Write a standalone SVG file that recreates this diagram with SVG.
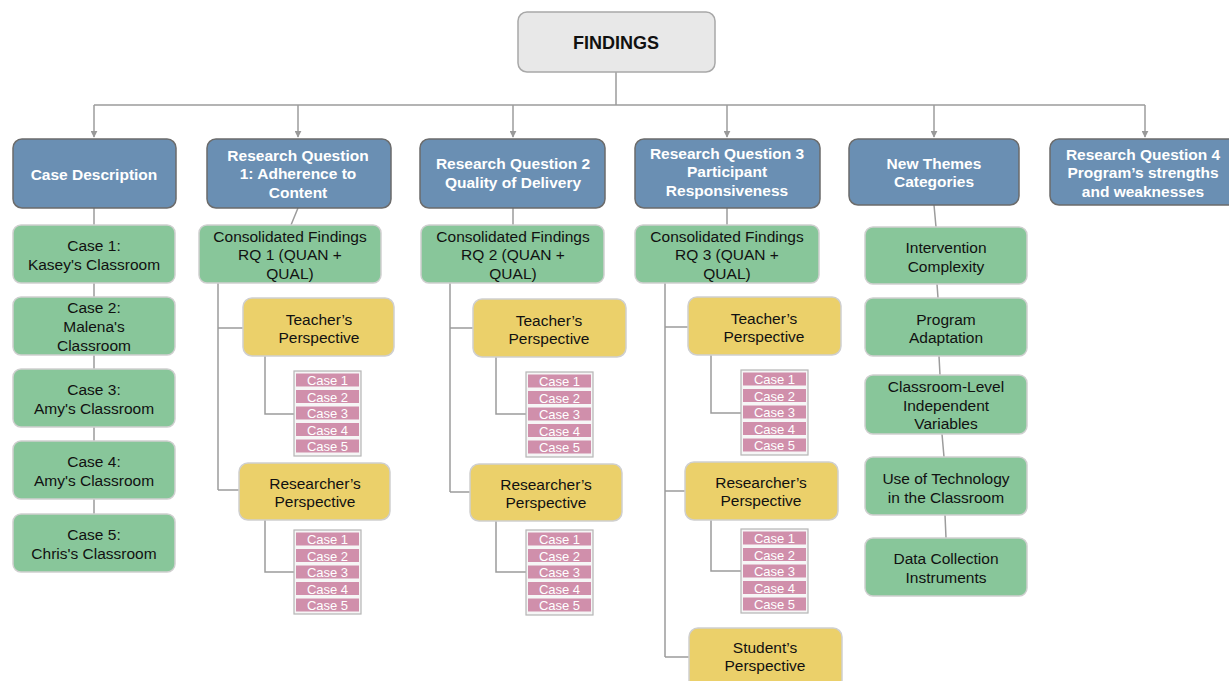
<svg xmlns="http://www.w3.org/2000/svg" width="1229" height="681" viewBox="0 0 1229 681">
  <defs>
    <marker id="arrow" viewBox="0 0 10 10" refX="9" refY="5" markerWidth="7" markerHeight="7" markerUnits="userSpaceOnUse" orient="auto">
      <path d="M0,0 L10,5 L0,10 z" fill="#999"/>
    </marker>
  </defs>
  <style>
    text { font-family: "Liberation Sans", Arial, sans-serif; text-anchor: middle; }
    .root rect { fill: #e8e8e8; stroke: #a8a8a8; stroke-width: 1.5; }
    .root text { font-size: 18px; font-weight: bold; fill: #111; }
    .head rect { fill: #6a8fb3; stroke: #6b6b6b; stroke-width: 1.5; }
    .head text { font-size: 15.5px; font-weight: bold; fill: #fff; }
    .green rect { fill: #88c69a; stroke: #cfcfcf; stroke-width: 1.5; }
    .green text { font-size: 15.5px; fill: #111; }
    .yellow rect { fill: #ebd06a; stroke: #cfcfcf; stroke-width: 1.5; }
    .yellow text { font-size: 15.5px; fill: #111; }
    .stack .frame { fill: #f6f6f6; stroke: #b5b5b5; stroke-width: 1.2; }
    .stack .row { fill: #d08fab; stroke: none; }
    .stack text { font-size: 13px; fill: #fff; }
    .conn { fill: none; stroke: #9c9c9c; stroke-width: 1.5; }
  </style>

  <!-- connectors -->
  <g id="connectors" class="conn">
    <path d="M616,72 V105 M94,105 H1145"/>
    <path d="M94,105 V137" marker-end="url(#arrow)"/>
    <path d="M298,105 V137" marker-end="url(#arrow)"/>
    <path d="M513,105 V137" marker-end="url(#arrow)"/>
    <path d="M727,105 V137" marker-end="url(#arrow)"/>
    <path d="M934,105 V137" marker-end="url(#arrow)"/>
    <path d="M1145,105 V137" marker-end="url(#arrow)"/>
    <!-- case description column -->
    <path d="M94,208 V225 M94,283 V297 M94,355 V369 M94,427 V441 M94,499 V514"/>
    <!-- RQ1 -->
    <path d="M298,208 L291,225 M218,283 V490 M218,328 H243 M218,490 H239"/>
    <path d="M265,356 V414 H294 M265,520 V572 H294"/>
    <!-- RQ2 -->
    <path d="M513,208 V225 M450,283 V492 M450,328 H473 M450,492 H470"/>
    <path d="M496,357 V414 H526 M496,521 V572 H526"/>
    <!-- RQ3 -->
    <path d="M727,208 V225 M665,283 V657 M665,327 H688 M665,491 H685 M665,657 H689"/>
    <path d="M711,355 V413 H741 M711,520 V571 H741"/>
    <!-- new themes column -->
    <path d="M934,205 L936,227 M937,284 L938,298 M939,356 L940,375 M942,434 L944,457 M945,515 L946,538"/>
  </g>

  <!-- root -->
  <g id="findings" class="root">
    <rect x="518" y="12" width="197" height="60" rx="9"/>
    <text x="616" y="49">FINDINGS</text>
  </g>

  <!-- top level categories -->
  <g id="case-description" class="head">
    <rect x="13" y="139" width="163" height="69" rx="9"/>
    <text x="94" y="180">Case Description</text>
  </g>
  <g id="rq1" class="head">
    <rect x="207" y="139" width="184" height="69" rx="9"/>
    <text x="298" y="161">Research Question</text>
    <text x="298" y="179">1: Adherence to</text>
    <text x="298" y="198">Content</text>
  </g>
  <g id="rq2" class="head">
    <rect x="420" y="139" width="185" height="69" rx="9"/>
    <text x="513" y="169">Research Question 2</text>
    <text x="513" y="188">Quality of Delivery</text>
  </g>
  <g id="rq3" class="head">
    <rect x="635" y="139" width="185" height="69" rx="9"/>
    <text x="727" y="159">Research Question 3</text>
    <text x="727" y="177">Participant</text>
    <text x="727" y="196">Responsiveness</text>
  </g>
  <g id="new-themes" class="head">
    <rect x="849" y="139" width="170" height="66" rx="9"/>
    <text x="934" y="169">New Themes</text>
    <text x="934" y="187">Categories</text>
  </g>
  <g id="rq4" class="head">
    <rect x="1050" y="139" width="190" height="66" rx="9"/>
    <text x="1143" y="160">Research Question 4</text>
    <text x="1143" y="178">Program’s strengths</text>
    <text x="1143" y="197">and weaknesses</text>
  </g>

  <!-- case descriptions -->
  <g id="case-1" class="green">
    <rect x="13" y="225" width="162" height="58" rx="8"/>
    <text x="94" y="251">Case 1:</text>
    <text x="94" y="270">Kasey's Classroom</text>
  </g>
  <g id="case-2" class="green">
    <rect x="13" y="297" width="162" height="58" rx="8"/>
    <text x="94" y="313">Case 2:</text>
    <text x="94" y="332">Malena's</text>
    <text x="94" y="351">Classroom</text>
  </g>
  <g id="case-3" class="green">
    <rect x="13" y="369" width="162" height="58" rx="8"/>
    <text x="94" y="395">Case 3:</text>
    <text x="94" y="414">Amy's Classroom</text>
  </g>
  <g id="case-4" class="green">
    <rect x="13" y="441" width="162" height="58" rx="8"/>
    <text x="94" y="467">Case 4:</text>
    <text x="94" y="486">Amy's Classroom</text>
  </g>
  <g id="case-5" class="green">
    <rect x="13" y="514" width="162" height="58" rx="8"/>
    <text x="94" y="540">Case 5:</text>
    <text x="94" y="559">Chris's Classroom</text>
  </g>

  <!-- RQ1 branch -->
  <g id="rq1-consolidated" class="green">
    <rect x="199" y="225" width="182" height="58" rx="8"/>
    <text x="290" y="242">Consolidated Findings</text>
    <text x="290" y="260">RQ 1 (QUAN +</text>
    <text x="290" y="279">QUAL)</text>
  </g>
  <g id="rq1-teacher" class="yellow">
    <rect x="243" y="298" width="151" height="58" rx="9"/>
    <text x="319" y="325">Teacher’s</text>
    <text x="319" y="343">Perspective</text>
  </g>
  <g id="rq1-teacher-cases" class="stack">
    <rect class="frame" x="294" y="371" width="67" height="85"/>
    <rect class="row" x="296" y="373.5" width="63" height="13"/>
    <rect class="row" x="296" y="390" width="63" height="13"/>
    <rect class="row" x="296" y="406.5" width="63" height="13"/>
    <rect class="row" x="296" y="423" width="63" height="13"/>
    <rect class="row" x="296" y="439.5" width="63" height="13"/>
    <text x="327.5" y="385">Case 1</text>
    <text x="327.5" y="401.5">Case 2</text>
    <text x="327.5" y="418">Case 3</text>
    <text x="327.5" y="434.5">Case 4</text>
    <text x="327.5" y="451">Case 5</text>
  </g>
  <g id="rq1-researcher" class="yellow">
    <rect x="239" y="463" width="151" height="57" rx="9"/>
    <text x="315" y="489">Researcher’s</text>
    <text x="315" y="507">Perspective</text>
  </g>
  <g id="rq1-researcher-cases" class="stack">
    <rect class="frame" x="294" y="530" width="67" height="84"/>
    <rect class="row" x="296" y="532.5" width="63" height="13"/>
    <rect class="row" x="296" y="549" width="63" height="13"/>
    <rect class="row" x="296" y="565.5" width="63" height="13"/>
    <rect class="row" x="296" y="582" width="63" height="13"/>
    <rect class="row" x="296" y="598.5" width="63" height="13"/>
    <text x="327.5" y="544">Case 1</text>
    <text x="327.5" y="560.5">Case 2</text>
    <text x="327.5" y="577">Case 3</text>
    <text x="327.5" y="593.5">Case 4</text>
    <text x="327.5" y="610">Case 5</text>
  </g>

  <!-- RQ2 branch -->
  <g id="rq2-consolidated" class="green">
    <rect x="421" y="225" width="183" height="58" rx="8"/>
    <text x="513" y="242">Consolidated Findings</text>
    <text x="513" y="260">RQ 2 (QUAN +</text>
    <text x="513" y="279">QUAL)</text>
  </g>
  <g id="rq2-teacher" class="yellow">
    <rect x="473" y="299" width="153" height="58" rx="9"/>
    <text x="549" y="326">Teacher’s</text>
    <text x="549" y="344">Perspective</text>
  </g>
  <g id="rq2-teacher-cases" class="stack">
    <rect class="frame" x="526" y="372" width="67" height="85"/>
    <rect class="row" x="528" y="374.5" width="63" height="13"/>
    <rect class="row" x="528" y="391" width="63" height="13"/>
    <rect class="row" x="528" y="407.5" width="63" height="13"/>
    <rect class="row" x="528" y="424" width="63" height="13"/>
    <rect class="row" x="528" y="440.5" width="63" height="13"/>
    <text x="559.5" y="386">Case 1</text>
    <text x="559.5" y="402.5">Case 2</text>
    <text x="559.5" y="419">Case 3</text>
    <text x="559.5" y="435.5">Case 4</text>
    <text x="559.5" y="452">Case 5</text>
  </g>
  <g id="rq2-researcher" class="yellow">
    <rect x="470" y="464" width="152" height="57" rx="9"/>
    <text x="546" y="490">Researcher’s</text>
    <text x="546" y="508">Perspective</text>
  </g>
  <g id="rq2-researcher-cases" class="stack">
    <rect class="frame" x="526" y="530" width="67" height="85"/>
    <rect class="row" x="528" y="532.5" width="63" height="13"/>
    <rect class="row" x="528" y="549" width="63" height="13"/>
    <rect class="row" x="528" y="565.5" width="63" height="13"/>
    <rect class="row" x="528" y="582" width="63" height="13"/>
    <rect class="row" x="528" y="598.5" width="63" height="13"/>
    <text x="559.5" y="544">Case 1</text>
    <text x="559.5" y="560.5">Case 2</text>
    <text x="559.5" y="577">Case 3</text>
    <text x="559.5" y="593.5">Case 4</text>
    <text x="559.5" y="610">Case 5</text>
  </g>

  <!-- RQ3 branch -->
  <g id="rq3-consolidated" class="green">
    <rect x="635" y="225" width="184" height="58" rx="8"/>
    <text x="727" y="242">Consolidated Findings</text>
    <text x="727" y="260">RQ 3 (QUAN +</text>
    <text x="727" y="279">QUAL)</text>
  </g>
  <g id="rq3-teacher" class="yellow">
    <rect x="688" y="297" width="153" height="58" rx="9"/>
    <text x="764" y="324">Teacher’s</text>
    <text x="764" y="342">Perspective</text>
  </g>
  <g id="rq3-teacher-cases" class="stack">
    <rect class="frame" x="741" y="370" width="67" height="85"/>
    <rect class="row" x="743" y="372.5" width="63" height="13"/>
    <rect class="row" x="743" y="389" width="63" height="13"/>
    <rect class="row" x="743" y="405.5" width="63" height="13"/>
    <rect class="row" x="743" y="422" width="63" height="13"/>
    <rect class="row" x="743" y="438.5" width="63" height="13"/>
    <text x="774.5" y="384">Case 1</text>
    <text x="774.5" y="400.5">Case 2</text>
    <text x="774.5" y="417">Case 3</text>
    <text x="774.5" y="433.5">Case 4</text>
    <text x="774.5" y="450">Case 5</text>
  </g>
  <g id="rq3-researcher" class="yellow">
    <rect x="685" y="462" width="153" height="58" rx="9"/>
    <text x="761" y="488">Researcher’s</text>
    <text x="761" y="506">Perspective</text>
  </g>
  <g id="rq3-researcher-cases" class="stack">
    <rect class="frame" x="741" y="529" width="67" height="84"/>
    <rect class="row" x="743" y="531.5" width="63" height="13"/>
    <rect class="row" x="743" y="548" width="63" height="13"/>
    <rect class="row" x="743" y="564.5" width="63" height="13"/>
    <rect class="row" x="743" y="581" width="63" height="13"/>
    <rect class="row" x="743" y="597.5" width="63" height="13"/>
    <text x="774.5" y="543">Case 1</text>
    <text x="774.5" y="559.5">Case 2</text>
    <text x="774.5" y="576">Case 3</text>
    <text x="774.5" y="592.5">Case 4</text>
    <text x="774.5" y="609">Case 5</text>
  </g>
  <g id="rq3-student" class="yellow">
    <rect x="689" y="628" width="153" height="62" rx="9"/>
    <text x="765" y="653">Student’s</text>
    <text x="765" y="671">Perspective</text>
  </g>

  <!-- new themes -->
  <g id="theme-intervention" class="green">
    <rect x="865" y="227" width="162" height="57" rx="8"/>
    <text x="946" y="253">Intervention</text>
    <text x="946" y="272">Complexity</text>
  </g>
  <g id="theme-adaptation" class="green">
    <rect x="865" y="298" width="162" height="58" rx="8"/>
    <text x="946" y="325">Program</text>
    <text x="946" y="343">Adaptation</text>
  </g>
  <g id="theme-classroom" class="green">
    <rect x="865" y="375" width="162" height="59" rx="8"/>
    <text x="946" y="392">Classroom-Level</text>
    <text x="946" y="411">Independent</text>
    <text x="946" y="429">Variables</text>
  </g>
  <g id="theme-technology" class="green">
    <rect x="865" y="457" width="162" height="58" rx="8"/>
    <text x="946" y="484">Use of Technology</text>
    <text x="946" y="503">in the Classroom</text>
  </g>
  <g id="theme-instruments" class="green">
    <rect x="865" y="538" width="162" height="58" rx="8"/>
    <text x="946" y="564">Data Collection</text>
    <text x="946" y="583">Instruments</text>
  </g>
</svg>
